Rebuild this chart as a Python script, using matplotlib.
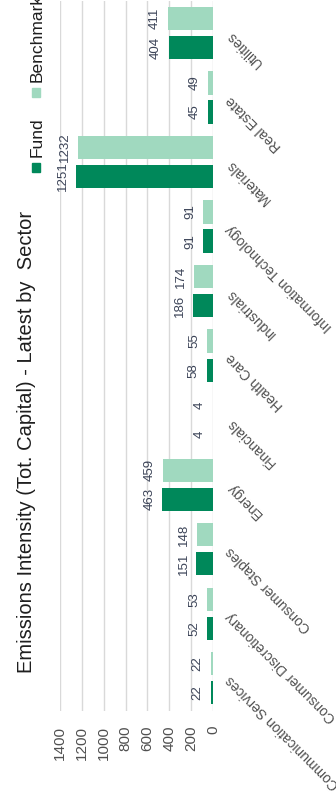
import matplotlib.pyplot as plt
import numpy as np
from matplotlib.patches import Rectangle

plt.rcParams['font.family'] = ['Liberation Sans', 'DejaVu Sans']

sectors = ['Communication Services', 'Consumer Discretionary', 'Consumer Staples',
           'Energy', 'Financials', 'Health Care', 'Industrials',
           'Information Technology', 'Materials', 'Real Estate', 'Utilities']
fund = [22, 52, 151, 463, 4, 58, 186, 91, 1251, 45, 404]
benchmark = [22, 53, 148, 459, 4, 55, 174, 91, 1232, 49, 411]
value_ticks = [0, 200, 400, 600, 800, 1000, 1200, 1400]

fund_color = '#00885a'
bench_color = '#a0d9bf'
text_color = '#505050'

W, H = 336, 801
fig = plt.figure(figsize=(W / 100, H / 100), dpi=100)
ax = fig.add_axes([60 / W, 1 - 710.5 / H, 153 / W, 709.75 / H])

y = np.arange(len(sectors))
h = 0.36
ax.barh(y - 0.225, fund, height=h, color=fund_color, zorder=3)
ax.barh(y + 0.225, benchmark, height=h, color=bench_color, zorder=3)

for yy, v in zip(y - 0.225, fund):
    ax.annotate(str(v), (v, yy), xytext=(-5, 0), textcoords='offset points',
                rotation=90, ha='right', va='center', fontsize=9.5, color='#3c4458')
for yy, v in zip(y + 0.225, benchmark):
    ax.annotate(str(v), (v, yy), xytext=(-5, 0), textcoords='offset points',
                rotation=90, ha='right', va='center', fontsize=9.5, color='#3c4458')

ax.set_xlim(1400, 0)
ax.set_ylim(-0.5, len(sectors) - 0.5)
ax.set_xticks(value_ticks)
ax.set_xticklabels([str(t) for t in value_ticks], rotation=90, fontsize=11, color=text_color)
ax.tick_params(axis='x', length=0, pad=11)

ax.yaxis.tick_right()
ax.set_yticks(y)
ax.set_yticklabels(sectors, rotation=135, rotation_mode='anchor', ha='right', va='center',
                   fontsize=10, color=text_color)
ax.tick_params(axis='y', length=0, pad=11)

ax.grid(axis='x', color='#d9d9d9', lw=1, zorder=0)
for s in ax.spines.values():
    s.set_visible(False)

# title and legend, drawn sideways
fig.text(27 / W, 1 - 673 / H, 'Emissions Intensity (Tot. Capital) - Latest by  Sector',
         rotation=90, ha='center', va='bottom', fontsize=14.5, color='#1e1e1e')
fig.add_artist(Rectangle((32 / W, 1 - 172 / H), 8 / W, 9 / H, color=fund_color,
                         transform=fig.transFigure))
fig.add_artist(Rectangle((32 / W, 1 - 97 / H), 8 / W, 9 / H, color=bench_color,
                         transform=fig.transFigure))
fig.text(37.5 / W, 1 - 157 / H, 'Fund', rotation=90, ha='center', va='bottom',
         fontsize=12.5, color='#1e1e1e')
fig.text(37.5 / W, 1 - 82 / H, 'Benchmark', rotation=90, ha='center', va='bottom',
         fontsize=12.5, color='#1e1e1e')

fig.savefig('out.png', dpi=100)
